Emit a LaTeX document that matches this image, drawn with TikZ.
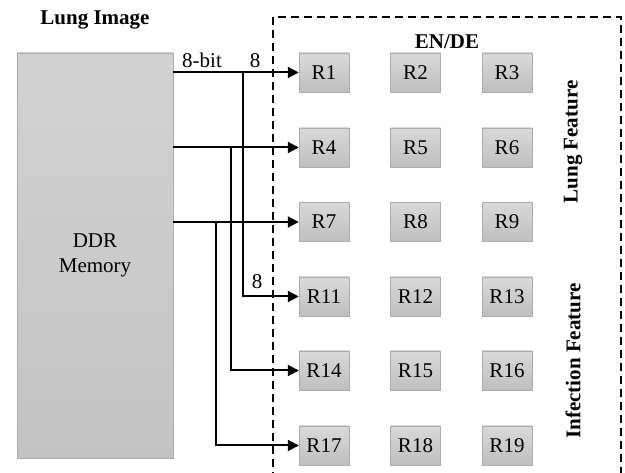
\documentclass[tikz,border=0pt]{standalone}
\usepackage{fontspec}
\setmainfont{Liberation Serif}
\usetikzlibrary{arrows.meta}

\begin{document}
\begin{tikzpicture}[x=1pt,y=-1pt,
  font=\fontsize{21}{25}\selectfont,
  memblock/.style={draw=gray!65, top color=gray!35, bottom color=gray!47,
    minimum width=156pt, minimum height=405pt, inner sep=0pt, align=center},
  regbox/.style={draw=gray!65, top color=gray!30, bottom color=gray!50,
    minimum width=50pt, minimum height=39pt, inner sep=0pt},
  bus/.style={line width=2pt, -{Triangle[length=11pt,width=11pt]}},
  heading/.style={font=\fontsize{21}{25}\selectfont\bfseries},
  lbl/.style={inner sep=0pt}
]
\useasboundingbox (0,0) rectangle (625,473);

% enclosure of the encoder/decoder registers
\draw[dashed, line width=1.2pt, dash pattern=on 8pt off 5pt]
  (273,480) -- (273,17) -- (621,17) -- (621,480);

% memory block
\node[heading] (title) at (95,20) {Lung Image};
\node[memblock] (ddr) at (95,255.5) {DDR\\Memory};

% register grid
\node[heading] (ende) at (447,42) {EN/DE};
\foreach \r/\y in {1/72.5, 4/147.5, 7/222} {
  \pgfmathtruncatemacro{\a}{\r}
  \pgfmathtruncatemacro{\b}{\r+1}
  \pgfmathtruncatemacro{\c}{\r+2}
  \node[regbox] (R\a) at (324,\y) {R\a};
  \node[regbox] (R\b) at (415.5,\y) {R\b};
  \node[regbox] (R\c) at (507,\y) {R\c};
}
\foreach \r/\y in {11/296.5, 14/370.5, 17/445.5} {
  \pgfmathtruncatemacro{\a}{\r}
  \pgfmathtruncatemacro{\b}{\r+1}
  \pgfmathtruncatemacro{\c}{\r+2}
  \node[regbox] (R\a) at (324,\y) {R\a};
  \node[regbox] (R\b) at (415.5,\y) {R\b};
  \node[regbox] (R\c) at (507,\y) {R\c};
}

\node[heading, rotate=90] (lungf) at (573,142) {Lung Feature};
\node[heading, rotate=90] (inff) at (573,361) {Infection Feature};

% branch points on the buses
\coordinate (j1) at (243,72.5);
\coordinate (j2) at (231,147.5);
\coordinate (j3) at (216,222);

% buses from memory to registers
\draw[bus] (ddr.east |- R1) -- (R1.west);
\draw[bus] (ddr.east |- R4) -- (R4.west);
\draw[bus] (ddr.east |- R7) -- (R7.west);
\draw[bus] (j1) |- (R11.west);
\draw[bus] (j2) |- (R14.west);
\draw[bus] (j3) |- (R17.west);

% bus widths
\node[lbl, anchor=base] (w1) at (202,68) {8-bit};
\node[lbl, anchor=base] (w2) at (255,68) {8};
\node[lbl, anchor=base] (w3) at (257,289) {8};
\end{tikzpicture}
\end{document}
